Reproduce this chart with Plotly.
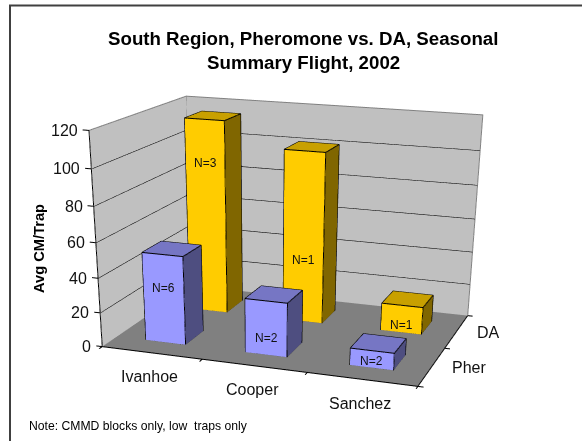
import plotly.graph_objects as go

# Chart data
sites = ["Ivanhoe", "Cooper", "Sanchez"]
series_names = ["Pher", "DA"]
pher_values = [51.5, 31.3, 9.8]
da_values = [114.9, 101.2, 16.5]
pher_counts = ["N=6", "N=2", "N=2"]
da_counts = ["N=3", "N=1", "N=1"]
pher_label_heights = [32.0, 10.0, 3.6]
da_label_heights = [90.0, 38.0, 4.5]
value_ticks = [0, 20, 40, 60, 80, 100, 120]

# Bar footprint, as half sizes in category units
BAR_HALF_X = 0.2019
BAR_HALF_Y = 0.2017

FIG_W, FIG_H = 591, 1041
VISIBLE_H = 441
FONT = "Liberation Sans"
TEXT = "#111111"
X_MAX, Y_MAX, Z_MAX = len(sites), len(series_names), value_ticks[-1]


def grow(xs, ys, zs, pts):
    """Append one polyline, separated from the next by a gap."""
    for p in pts:
        xs.append(p[0]); ys.append(p[1]); zs.append(p[2])
    xs.append(None); ys.append(None); zs.append(None)


def quads_trace(quads):
    """Build a flat-shaded mesh from (corner list, colour) pairs."""
    x, y, z, i, j, k, colors = [], [], [], [], [], [], []
    for corners, color in quads:
        n = len(x)
        for c in corners:
            x.append(c[0]); y.append(c[1]); z.append(c[2])
        i += [n, n]; j += [n + 1, n + 2]; k += [n + 2, n + 3]
        colors += [color, color]
    return go.Mesh3d(
        x=x, y=y, z=z, i=i, j=j, k=k, facecolor=colors, flatshading=True,
        lighting=dict(ambient=1, diffuse=0, specular=0, fresnel=0, roughness=1),
        hoverinfo="skip", showscale=False,
    )


def line_trace(xs, ys, zs, color, width):
    return go.Scatter3d(x=xs, y=ys, z=zs, mode="lines", hoverinfo="skip",
                        line=dict(color=color, width=width), showlegend=False)


def bar_series(values, row, front, top, side):
    """Faces and outlines of one row of bars."""
    quads = []
    ex, ey, ez = [], [], []
    for col, v in enumerate(values):
        x0, x1 = col + 0.5 - BAR_HALF_X, col + 0.5 + BAR_HALF_X
        y0, y1 = row + 0.5 - BAR_HALF_Y, row + 0.5 + BAR_HALF_Y
        quads.append(([(x0, y0, 0), (x1, y0, 0), (x1, y0, v), (x0, y0, v)], front))
        quads.append(([(x0, y0, v), (x1, y0, v), (x1, y1, v), (x0, y1, v)], top))
        quads.append(([(x1, y0, 0), (x1, y1, 0), (x1, y1, v), (x1, y0, v)], side))
        grow(ex, ey, ez, [(x0, y0, 0), (x1, y0, 0), (x1, y1, 0), (x1, y1, v), (x0, y1, v), (x0, y0, v), (x0, y0, 0)])
        grow(ex, ey, ez, [(x0, y0, v), (x1, y0, v), (x1, y1, v)])
        grow(ex, ey, ez, [(x1, y0, v), (x1, y0, 0)])
    return quads_trace(quads), line_trace(ex, ey, ez, "#000000", 2)


# Walls and floor
walls = quads_trace([
    ([(0, Y_MAX, 0), (X_MAX, Y_MAX, 0), (X_MAX, Y_MAX, Z_MAX), (0, Y_MAX, Z_MAX)], "#C0C0C0"),
    ([(0, 0, 0), (0, Y_MAX, 0), (0, Y_MAX, Z_MAX), (0, 0, Z_MAX)], "#C0C0C0"),
    ([(0, 0, 0), (X_MAX, 0, 0), (X_MAX, Y_MAX, 0), (0, Y_MAX, 0)], "#808080"),
])

# Gridlines run along the left wall, then across the back wall
gx, gy, gz = [], [], []
for t in value_ticks[1:-1]:
    grow(gx, gy, gz, [(0, 0, t), (0, Y_MAX, t), (X_MAX, Y_MAX, t)])
grid = line_trace(gx, gy, gz, "#000000", 2)

# Light outline of the wall tops and corners
wx, wy, wz = [], [], []
grow(wx, wy, wz, [(0, 0, Z_MAX), (0, Y_MAX, Z_MAX), (X_MAX, Y_MAX, Z_MAX), (X_MAX, Y_MAX, 0)])
grow(wx, wy, wz, [(0, Y_MAX, 0), (0, Y_MAX, Z_MAX)])
wall_edges = line_trace(wx, wy, wz, "#808080", 2)

# Axis lines and tick marks
ax_x, ax_y, ax_z = [], [], []
grow(ax_x, ax_y, ax_z, [(0, 0, Z_MAX), (0, 0, 0), (X_MAX, 0, 0), (X_MAX, Y_MAX, 0)])
for t in value_ticks:
    grow(ax_x, ax_y, ax_z, [(0, 0, t), (-0.06, 0, t)])
for c in range(X_MAX + 1):
    grow(ax_x, ax_y, ax_z, [(c, 0, 0), (c, -0.06, 0)])
for r in range(Y_MAX + 1):
    grow(ax_x, ax_y, ax_z, [(X_MAX, r, 0), (X_MAX + 0.05, r, 0)])
axes = line_trace(ax_x, ax_y, ax_z, "#000000", 2)

pher_mesh, pher_lines = bar_series(pher_values, 0, "#9999FF", "#7676C4", "#4E4E80")
da_mesh, da_lines = bar_series(da_values, 1, "#FFCC00", "#C8A000", "#806600")

fig = go.Figure([walls, grid, wall_edges, axes, da_mesh, da_lines, pher_mesh, pher_lines])


def scene_label(x, y, z, text, size=16, anchor="center", dx=0, dy=0):
    return dict(x=x, y=y, z=z, text=text, showarrow=False, xanchor=anchor,
                xshift=dx, yshift=dy, font=dict(family=FONT, size=size, color=TEXT))


labels = []
for t in value_ticks:
    labels.append(scene_label(0, 0, t, str(t), anchor="right", dx=-9))
for c, name in enumerate(sites):
    labels.append(scene_label(c + 0.5, 0, 0, name, dx=-2, dy=-24))
for r, name in enumerate(series_names):
    labels.append(scene_label(X_MAX, r + 0.5, 0, name, anchor="left", dx=18, dy=-1))
for c in range(len(sites)):
    labels.append(scene_label(c + 0.5, 0.5 - BAR_HALF_Y, pher_label_heights[c], pher_counts[c], size=12))
    labels.append(scene_label(c + 0.5, 1.5 - BAR_HALF_Y, da_label_heights[c], da_counts[c], size=12))

PAD_X, PAD_Y, PAD_Z = 0.6, 0.6, 20


def px(x):
    return x / FIG_W


def py(y):
    return 1 - y / FIG_H


def page_text(x, y, text, size, bold=False, anchor="center", angle=0):
    return dict(xref="paper", yref="paper", x=px(x), y=py(y), text=f"<b>{text}</b>" if bold else text,
                showarrow=False, xanchor=anchor, yanchor="middle", textangle=angle,
                font=dict(family=FONT, size=size, color="#000000"))


fig.update_layout(
    width=FIG_W, height=FIG_H, autosize=False, showlegend=False,
    margin=dict(l=0, r=0, t=0, b=0, pad=0),
    paper_bgcolor="#FFFFFF",
    scene=dict(
        domain=dict(x=[0, 1], y=[0, 1]),
        aspectmode="manual",
        aspectratio=dict(x=(X_MAX + 2 * PAD_X) / X_MAX,
                         y=0.7091 * (Y_MAX + 2 * PAD_Y) / Y_MAX,
                         z=0.6471 * (Z_MAX + 2 * PAD_Z) / Z_MAX),
        camera=dict(eye=dict(x=1.2319, y=-3.6846, z=0.9541),
                    center=dict(x=0.2281, y=-0.6355, z=-0.6674),
                    up=dict(x=-0.0115, y=0, z=1),
                    projection=dict(type="perspective")),
        xaxis=dict(visible=False, range=[-PAD_X, X_MAX + PAD_X]),
        yaxis=dict(visible=False, range=[-PAD_Y, Y_MAX + PAD_Y]),
        zaxis=dict(visible=False, range=[-PAD_Z, Z_MAX + PAD_Z]),
        annotations=labels,
        dragmode=False,
    ),
    annotations=[
        page_text(303, 38, "South Region, Pheromone vs. DA, Seasonal", 18.7, bold=True),
        page_text(303, 63, "Summary Flight, 2002", 18.7, bold=True),
        page_text(39, 249, "Avg CM/Trap", 14.67, bold=True, angle=-90),
        page_text(26.5, 426, "Note: CMMD blocks only, low  traps only", 12.2, anchor="left"),
    ],
    shapes=[dict(type="rect", xref="paper", yref="paper",
                 x0=px(10), x1=px(FIG_W - 2), y0=py(5.5), y1=py(VISIBLE_H + 20),
                 line=dict(color="#404040", width=2), fillcolor="rgba(0,0,0,0)")],
)

fig.write_html("out.html", config=dict(displayModeBar=False),
               post_script="document.documentElement.style.overflow='hidden';document.body.style.overflow='hidden';")
